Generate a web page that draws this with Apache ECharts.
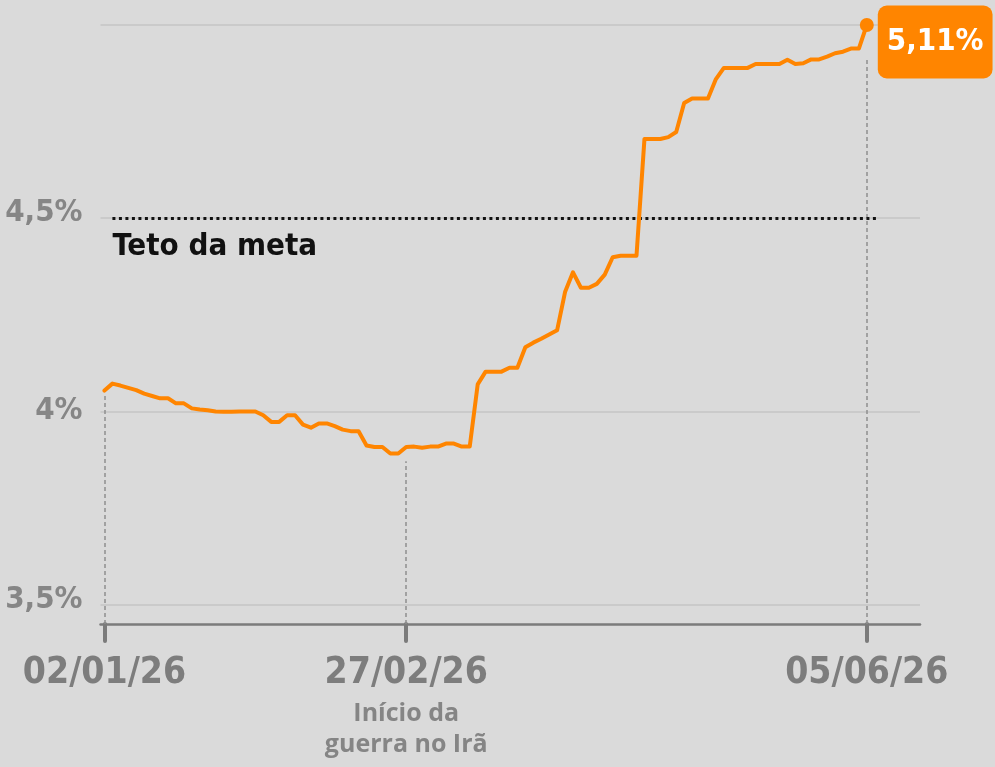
<!DOCTYPE html>
<html>
<head>
<meta charset="utf-8">
<script src="https://cdn.jsdelivr.net/npm/echarts@6/dist/echarts.min.js"></script>
<style>
  html, body { margin: 0; padding: 0; background: #dadada; }
  #chart { width: 995px; height: 767px; }
</style>
</head>
<body>
<div id="chart"></div>
<script>
// expectativa de IPCA 2026 (%), um ponto por dia útil
const expectativa = [
  4.054, 4.072, 4.067, 4.061, 4.055, 4.046, 4.040, 4.034, 4.034, 4.021,
  4.021, 4.008, 4.005, 4.003, 4.000, 3.999, 3.999, 4.000, 4.000, 4.000,
  3.990, 3.973, 3.973, 3.990, 3.990, 3.966, 3.958, 3.969, 3.969, 3.962,
  3.953, 3.949, 3.949, 3.912, 3.908, 3.908, 3.891, 3.891, 3.908, 3.909,
  3.906, 3.909, 3.909, 3.917, 3.917, 3.909, 3.909, 4.070, 4.103, 4.103,
  4.103, 4.113, 4.113, 4.166, 4.178, 4.188, 4.199, 4.210, 4.309, 4.360,
  4.320, 4.320, 4.330, 4.354, 4.399, 4.403, 4.403, 4.403, 4.705, 4.705,
  4.705, 4.710, 4.723, 4.798, 4.810, 4.810, 4.810, 4.860, 4.889, 4.889,
  4.889, 4.889, 4.899, 4.899, 4.899, 4.899, 4.910, 4.899, 4.901, 4.911,
  4.911, 4.918, 4.927, 4.931, 4.939, 4.939, 5.000
];
const rotulosX = ['02/01/26', '27/02/26', '05/06/26'];
const indicesX = [0, 38, 96];
const notasX = ['', 'Início da\nguerra no Irã', ''];
const guiaTopo = [4.044, 3.871, 4.917];   // onde as linhas tracejadas param
const rotulosY = [3.5, 4, 4.5];
const gradeY = [3.5, 4, 4.5, 5];
const tetoMeta = 4.5;
const ultimoRotulo = '5,11%';

const yMin = 3.45;
const condensada = "'Liberation Sans Narrow', 'DejaVu Sans Condensed', sans-serif";
const laranja = '#ff8500';

const myChart = echarts.init(document.getElementById('chart'));

const linhasGrade = gradeY.map(v => ({
  yAxis: v,
  lineStyle: { color: '#c4c4c4', width: 1.5, type: 'solid' }
}));
const linhasGuia = indicesX.map((idx, k) => [
  { coord: [idx, yMin], lineStyle: { color: '#8e8e8e', width: 1.5, type: [4, 3] } },
  { coord: [idx, guiaTopo[k]] }
]);
const linhaTeto = [
  {
    coord: [1, tetoMeta],
    lineStyle: { color: '#111', width: 3, type: [3, 3.5] },
    label: {
      show: true,
      position: 'insideStartBottom',
      formatter: 'Teto da meta',
      color: '#111',
      fontSize: 31,
      fontWeight: 'bold',
      fontFamily: condensada,
      distance: [0, 13]
    }
  },
  { coord: [97.5, tetoMeta] }
];

const option = {
  backgroundColor: '#dadada',
  animation: false,
  grid: { left: 100.5, right: 75, top: 25, bottom: 143, outerBoundsMode: 'none' },
  xAxis: {
    type: 'value',
    min: -0.5,
    max: 102.7,
    splitLine: { show: false },
    axisLine: { show: true, onZero: false, lineStyle: { color: '#7b7b7b', width: 2.5 } },
    axisTick: {
      show: true,
      customValues: indicesX,
      length: 17,
      lineStyle: { color: '#7b7b7b', width: 4, cap: 'round' }
    },
    axisLabel: {
      customValues: indicesX,
      margin: 24,
      formatter: v => {
        const k = indicesX.indexOf(Math.round(v));
        if (k < 0) return '';
        let s = '{d|' + rotulosX[k] + '}';
        if (notasX[k]) notasX[k].split('\n').forEach(l => { s += '\n{n|' + l + '}'; });
        return s;
      },
      rich: {
        d: { fontSize: 37, lineHeight: 50, fontWeight: 'bold', fontFamily: condensada, color: '#7d7d7d' },
        n: { fontSize: 25, lineHeight: 31, fontWeight: 'bold', fontFamily: "'Open Sans', 'Noto Sans', sans-serif", color: '#858585' }
      }
    }
  },
  yAxis: {
    type: 'value',
    min: yMin,
    max: 5,
    axisLine: { show: false },
    axisTick: { show: false },
    splitLine: { show: false },
    axisLabel: {
      customValues: rotulosY,
      margin: 18,
      fontSize: 31,
      lineHeight: 31,
      fontWeight: 'bold',
      fontFamily: condensada,
      color: '#868686',
      formatter: v => {
        const s = String(v).replace('.', ',') + '%';
        return s.indexOf(',') >= 0 ? s + '\n{e| }' : s;
      },
      rich: { e: { fontSize: 10, lineHeight: 10 } }
    }
  },
  series: [
    {
      type: 'line',
      z: 2,
      data: expectativa.map((v, i) => [i, v]),
      showSymbol: false,
      lineStyle: { color: laranja, width: 4, join: 'round', cap: 'round' },
      markLine: {
        z: 1,
        silent: true,
        symbol: 'none',
        animation: false,
        label: { show: false },
        data: [...linhasGrade, ...linhasGuia, linhaTeto]
      }
    },
    {
      type: 'scatter',
      z: 3,
      symbolSize: 14,
      itemStyle: { color: laranja, opacity: 1 },
      data: [[expectativa.length - 1, expectativa[expectativa.length - 1]]],
      label: {
        show: true,
        position: 'right',
        distance: 4,
        offset: [0, 17],
        formatter: ultimoRotulo,
        backgroundColor: laranja,
        borderRadius: 9,
        padding: [20, 9, 20, 9],
        color: '#fff',
        fontSize: 31,
        lineHeight: 33,
        fontWeight: 'bold',
        fontFamily: condensada
      }
    }
  ]
};

myChart.setOption(option);
</script>
</body>
</html>
